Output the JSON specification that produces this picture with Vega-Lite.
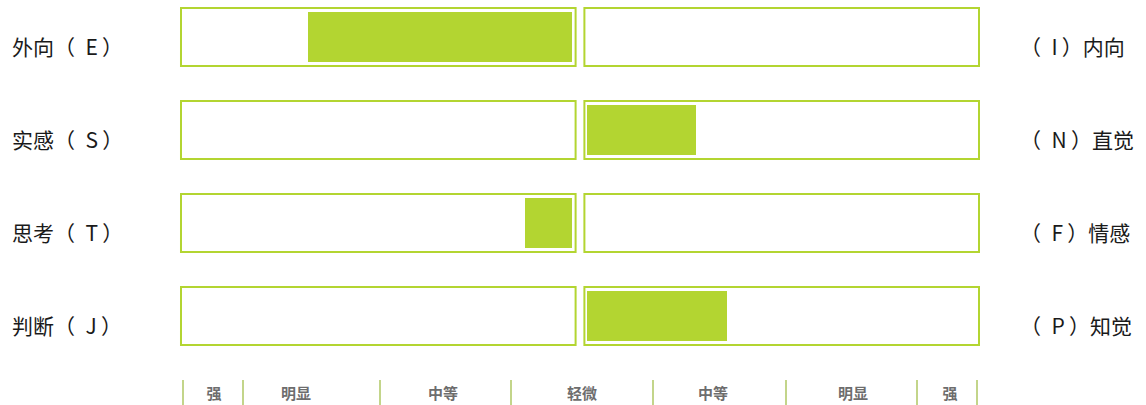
{
  "$schema": "https://vega.github.io/schema/vega-lite/v6.json",
  "width": 1146,
  "height": 405,
  "padding": 0,
  "autosize": {"type": "none"},
  "background": "white",
  "config": {"view": {"stroke": null}},
  "datasets": {
    "boxes": [
      {"row": "EI", "x1": -99.75, "x2": -1.1},
      {"row": "EI", "x1": 1.1, "x2": 99.75},
      {"row": "SN", "x1": -99.75, "x2": -1.1},
      {"row": "SN", "x1": 1.1, "x2": 99.75},
      {"row": "TF", "x1": -99.75, "x2": -1.1},
      {"row": "TF", "x1": 1.1, "x2": 99.75},
      {"row": "JP", "x1": -99.75, "x2": -1.1},
      {"row": "JP", "x1": 1.1, "x2": 99.75}
    ],
    "fills": [
      {"row": "EI", "from": -2, "to": -68},
      {"row": "SN", "from": 1.75, "to": 29},
      {"row": "TF", "from": -2, "to": -13.75},
      {"row": "JP", "from": 1.75, "to": 36.75}
    ],
    "labels": [
      {"row": "EI", "x": -142, "text": "外向（\u2002E\u2009）"},
      {"row": "EI", "x": 110, "text": "（\u2002I\u2009）内向"},
      {"row": "SN", "x": -142, "text": "实感（\u2002S\u2009）"},
      {"row": "SN", "x": 110, "text": "（\u2002N\u2009）直觉"},
      {"row": "TF", "x": -142, "text": "思考（\u2002T\u2009）"},
      {"row": "TF", "x": 110, "text": "（\u2002F\u2009）情感"},
      {"row": "JP", "x": -142, "text": "判断（\u2002J\u2009）"},
      {"row": "JP", "x": 110, "text": "（\u2002P\u2009）知觉"}
    ],
    "ticks": [
      {"pos": -99.25}, {"pos": -84.25}, {"pos": -50}, {"pos": -17.25},
      {"pos": 18.25}, {"pos": 51.5}, {"pos": 84.25}, {"pos": 99.25}
    ],
    "scaleLabels": [
      {"pos": -91.5, "text": "强"},
      {"pos": -71, "text": "明显"},
      {"pos": -34.25, "text": "中等"},
      {"pos": 0.5, "text": "轻微"},
      {"pos": 33.25, "text": "中等"},
      {"pos": 68.25, "text": "明显"},
      {"pos": 92.5, "text": "强"}
    ]
  },
  "layer": [
    {
      "layer": [
        {
          "data": {"name": "boxes"},
          "mark": {"type": "rect", "filled": false, "stroke": "#b3d531", "strokeWidth": 2},
          "encoding": {
            "x": {"field": "x1", "type": "quantitative", "scale": {"domain": [-145, 141.5], "nice": false, "zero": false}, "axis": null},
            "x2": {"field": "x2"},
            "y": {"field": "row", "type": "nominal", "scale": {"type": "band", "domain": ["EI", "SN", "TF", "JP"], "range": [8, 345], "paddingInner": 0.376, "paddingOuter": 0}, "axis": null}
          }
        },
        {
          "data": {"name": "fills"},
          "mark": {"type": "bar", "color": "#b3d531", "height": 50},
          "encoding": {
            "x": {"field": "from", "type": "quantitative", "scale": {"domain": [-145, 141.5], "nice": false, "zero": false}, "axis": null},
            "x2": {"field": "to"},
            "y": {"field": "row", "type": "nominal", "scale": {"type": "band", "domain": ["EI", "SN", "TF", "JP"], "range": [8, 345], "paddingInner": 0.376, "paddingOuter": 0}, "axis": null}
          }
        },
        {
          "data": {"name": "labels"},
          "mark": {"type": "text", "align": "left", "baseline": "middle", "dy": 12, "font": "Noto Sans CJK SC", "fontSize": 21, "color": "#1a1a1a"},
          "encoding": {
            "x": {"field": "x", "type": "quantitative", "scale": {"domain": [-145, 141.5], "nice": false, "zero": false}, "axis": null},
            "y": {"field": "row", "type": "nominal", "scale": {"type": "band", "domain": ["EI", "SN", "TF", "JP"], "range": [8, 345], "paddingInner": 0.376, "paddingOuter": 0}, "axis": null},
            "text": {"field": "text"}
          }
        }
      ]
    },
    {
      "layer": [
        {
          "data": {"name": "ticks"},
          "mark": {"type": "tick", "orient": "vertical", "color": "#c3d58a", "thickness": 2, "size": 25, "opacity": 1},
          "encoding": {
            "x": {"field": "pos", "type": "quantitative", "scale": {"domain": [-145, 141.5], "nice": false, "zero": false}, "axis": null},
            "y": {"datum": "s", "type": "nominal", "scale": {"type": "band", "domain": ["s"], "range": [380, 405], "paddingInner": 0, "paddingOuter": 0}, "axis": null}
          }
        },
        {
          "data": {"name": "scaleLabels"},
          "mark": {"type": "text", "align": "center", "baseline": "middle", "dy": 1, "font": "Noto Sans CJK SC", "fontSize": 15, "fontWeight": "bold", "color": "#5e5e5e", "opacity": 0.9},
          "encoding": {
            "x": {"field": "pos", "type": "quantitative", "scale": {"domain": [-145, 141.5], "nice": false, "zero": false}, "axis": null},
            "y": {"datum": "s", "type": "nominal", "scale": {"type": "band", "domain": ["s"], "range": [380, 405], "paddingInner": 0, "paddingOuter": 0}, "axis": null},
            "text": {"field": "text"}
          }
        }
      ]
    }
  ],
  "resolve": {"scale": {"y": "independent"}}
}
